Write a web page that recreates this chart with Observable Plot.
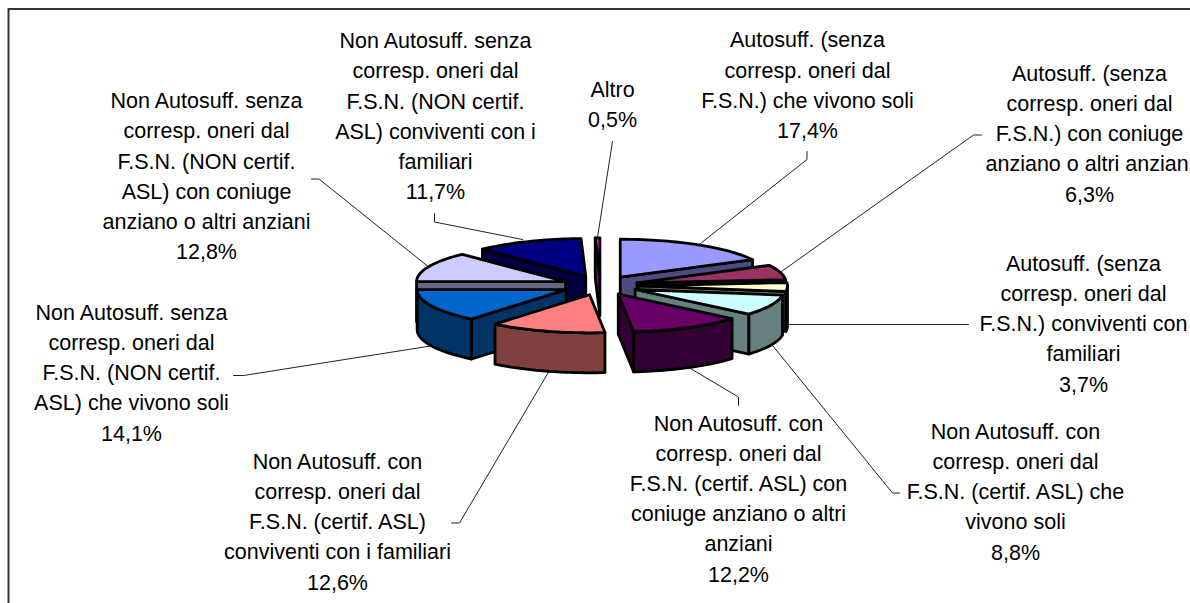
<!DOCTYPE html>
<html>
<head>
<meta charset="utf-8">
<script src="https://cdn.jsdelivr.net/npm/d3@7"></script>
<script src="https://cdn.jsdelivr.net/npm/@observablehq/plot@0.6"></script>
<style>
html,body{margin:0;padding:0;background:#fff;overflow:hidden}
svg{display:block}
</style>
</head>
<body>
<div id="chart"></div>
<script>
const categories = [
  "Autosuff. (senza\ncorresp. oneri dal\nF.S.N.) che vivono soli",
  "Autosuff. (senza\ncorresp. oneri dal\nF.S.N.) con coniuge\nanziano o altri anziani",
  "Autosuff. (senza\ncorresp. oneri dal\nF.S.N.) conviventi con\nfamiliari",
  "Non Autosuff. con\ncorresp. oneri dal\nF.S.N. (certif. ASL) che\nvivono soli",
  "Non Autosuff. con\ncorresp. oneri dal\nF.S.N. (certif. ASL) con\nconiuge anziano o altri\nanziani",
  "Non Autosuff. con\ncorresp. oneri dal\nF.S.N. (certif. ASL)\nconviventi con i familiari",
  "Non Autosuff. senza\ncorresp. oneri dal\nF.S.N. (NON certif.\nASL) che vivono soli",
  "Non Autosuff. senza\ncorresp. oneri dal\nF.S.N. (NON certif.\nASL) con coniuge\nanziano o altri anziani",
  "Non Autosuff. senza\ncorresp. oneri dal\nF.S.N. (NON certif.\nASL) conviventi con i\nfamiliari",
  "Altro"
];
const shares = [17.4, 6.3, 3.7, 8.8, 12.2, 12.6, 14.1, 12.8, 11.7, 0.5];
const topColors = ["#9999FF","#993366","#FFFFCC","#CCFFFF","#660066","#FF8080","#0066CC","#CCCCFF","#000080","#FF00FF"];
const sideColors = ["#4C4C80","#4D1A33","#808066","#668080","#330033","#804040","#003366","#666680","#000040","#800080"];

// layout: label block centres
const labelX = [807, 1089, 1083, 1015, 738, 337, 131, 206, 435, 612];
const labelY = [82.5, 131, 321, 489, 496, 519, 370, 173.5, 113.5, 102];
// layout: leader-line anchor points, slice end to label end
const leaders = [
  [[700,243],[806.5,159],[806.5,151]],
  [[781,271],[973,134.5],[981,134.5]],
  [[788,324],[968,324]],
  [[772,345],[892,492.5],[899,492.5]],
  [[690,368],[738,396.5],[738,405]],
  [[549,370],[459,522.5],[451,522.5]],
  [[430,345.5],[243,375],[233,375]],
  [[427,265.5],[318.5,178.5],[311,178.5]],
  [[522,239],[434,221.5],[434,213]],
  [[597,237],[612,141]]
];

const W = 1190, H = 603;
const pie3d = {cx: 600, cy: 285, rx: 149, ry: 38, explode: 38, depth: 40};

const arcs = d3.pie().sort(null).value(d => d)(shares);
const slices = arcs.map((a, i) => {
  const mid = (a.startAngle + a.endAngle) / 2;
  return {
    i, a0: a.startAngle, a1: a.endAngle, mid,
    ox: pie3d.cx + pie3d.explode * Math.sin(mid),
    oy: pie3d.cy - pie3d.explode * (pie3d.ry / pie3d.rx) * Math.cos(mid)
  };
});

const faces = [];
function addFace(key, color, pts) {
  const closed = [...pts, pts[0]];
  closed.forEach(p => faces.push({x: p[0], y: p[1], key, color}));
}
const ang = (s, t, dz = 0) => [s.ox + pie3d.rx * Math.sin(t), s.oy - pie3d.ry * Math.cos(t) + dz];
const arcPts = (s, t0, t1, dz = 0) => {
  const n = Math.max(2, Math.ceil((t1 - t0) / 0.03));
  return d3.range(n + 1).map(k => ang(s, t0 + (t1 - t0) * k / n, dz));
};
const d = pie3d.depth;
[...slices].sort((p, q) => Math.cos(q.mid) - Math.cos(p.mid)).forEach(s => {
  const top = [s.ox, s.oy];
  if (Math.sin(s.a0) < 0) {
    const e = ang(s, s.a0), e2 = ang(s, s.a0, d);
    addFace(`s${s.i}w0`, sideColors[s.i], [top, e, e2, [s.ox, s.oy + d]]);
  }
  if (Math.sin(s.a1) > 0) {
    const e = ang(s, s.a1), e2 = ang(s, s.a1, d);
    addFace(`s${s.i}w1`, sideColors[s.i], [top, e, e2, [s.ox, s.oy + d]]);
  }
  const r0 = Math.max(s.a0, Math.PI / 2), r1 = Math.min(s.a1, 3 * Math.PI / 2);
  if (r1 > r0) {
    addFace(`s${s.i}r`, sideColors[s.i], [...arcPts(s, r0, r1), ...arcPts(s, r0, r1, d).reverse()]);
  }
  addFace(`s${s.i}t`, topColors[s.i], [top, ...arcPts(s, s.a0, s.a1)]);
});

const leaderRows = leaders.flatMap((pts, i) => pts.map(p => ({x: p[0], y: p[1], i})));
const labels = categories.map((c, i) => ({
  text: `${c}\n${shares[i].toFixed(1).replace(".", ",")}%`,
  x: labelX[i], y: labelY[i]
}));

const plot = Plot.plot({
  width: W, height: H,
  margin: 0,
  x: {domain: [0, W], range: [0, W], axis: null},
  y: {domain: [0, H], range: [0, H], axis: null},
  style: {background: "#fff", fontFamily: "Liberation Sans, Arial, sans-serif"},
  marks: [
    Plot.ruleY([8.5], {x1: 8, x2: W, stroke: "#333", strokeWidth: 2}),
    Plot.ruleX([8], {y1: 8, y2: H, stroke: "#333", strokeWidth: 2}),
    Plot.line(leaderRows, {x: "x", y: "y", z: "i", stroke: "#222", strokeWidth: 1, curve: "linear"}),
    Plot.line(faces, {x: "x", y: "y", z: "key", fill: "color", stroke: "#000", strokeWidth: 2.8, strokeLinejoin: "round", curve: "linear"}),
    Plot.text(labels, {x: "x", y: "y", text: "text", fontSize: 21.5, lineHeight: 30.2 / 21.5, textAnchor: "middle", lineAnchor: "middle", fill: "#000"})
  ]
});
document.getElementById("chart").append(plot);
</script>
</body>
</html>
